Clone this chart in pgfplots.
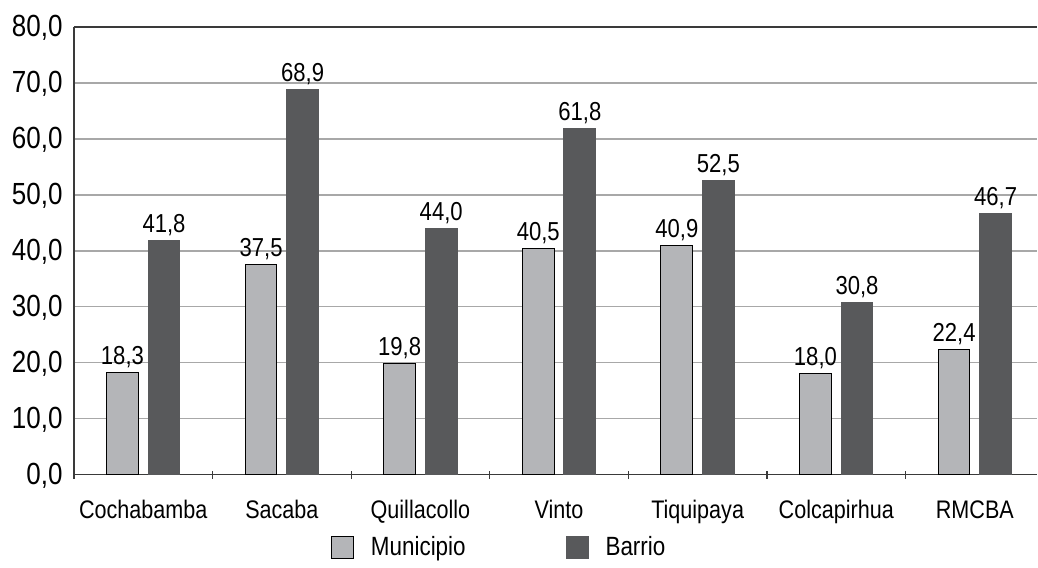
\documentclass[border=0pt]{standalone}
\usepackage{fontspec}
\setmainfont{Liberation Sans}[FakeStretch=0.85]
\usepackage{pgfplots}
\pgfplotsset{compat=1.18}
\usetikzlibrary{calc}
\definecolor{muni}{HTML}{B4B5B8}
\definecolor{barrio}{HTML}{58595B}
\definecolor{gridc}{HTML}{A8A8A8}
\definecolor{axisc}{HTML}{3A3A3A}
\begin{document}
\begin{tikzpicture}
\begin{axis}[
  scale only axis, width=482pt, height=224pt,
  xmin=-0.5, xmax=6.45, ymin=0, ymax=80,
  axis x line*=bottom, axis y line*=left,
  axis line style={-, draw=axisc, line width=0.8pt},
  ytick={0,10,...,80}, ytick style={draw=none},
  ymajorgrids, grid style={gridc, line width=0.7pt},
  xtick={0,...,6}, xtick style={draw=none},
  xticklabels={Cochabamba,Sacaba,Quillacollo,Vinto,Tiquipaya,Colcapirhua,RMCBA},
  extra x ticks={-0.5,0.5,1.5,2.5,3.5,4.5,5.5}, extra x tick labels={},
  extra x tick style={grid=none, tick align=center, major tick length=4pt,
    xtick style={draw=axisc, line width=0.6pt}},
  xticklabel style={anchor=base, yshift=-17.5pt, font=\fontsize{12.7}{14}\selectfont},
  yticklabel style={anchor=base east, inner sep=0pt, xshift=-5.5pt, yshift=-5pt,
    font=\fontsize{15.3}{17}\selectfont},
  /pgf/number format/.cd, use comma, fixed, fixed zerofill, precision=1, assume math mode=true,
  /pgfplots/.cd,
  ybar, bar width=0.23, bar shift=0pt,
  nodes near coords,
  every node near coord/.append style={anchor=base, inner sep=0pt, yshift=4pt,
    text=black, font=\fontsize{13}{15}\selectfont},
  legend style={at={(0.4425,-0.163)}, anchor=center, draw=none, fill=none,
    legend columns=2, font=\fontsize{13.2}{15}\selectfont,
    /tikz/every odd column/.append style={column sep=6.5pt},
    /tikz/every even column/.append style={column sep=48pt}},
  legend image code/.code={\draw[#1] (0pt,-5.5pt) rectangle (11pt,5.5pt);},
]
\addplot[fill=muni, draw=black, line width=0.5pt] coordinates
  {(-0.15,18.3) (0.85,37.5) (1.85,19.8) (2.85,40.5) (3.85,40.9) (4.85,18.0) (5.85,22.4)};
\addlegendentry{Municipio}
\addplot[fill=barrio, draw=barrio, line width=0.5pt] coordinates
  {(0.15,41.8) (1.15,68.9) (2.15,44.0) (3.15,61.8) (4.15,52.5) (5.15,30.8) (6.15,46.7)};
\addlegendentry{Barrio}
\draw[axisc, line width=0.8pt] (rel axis cs:0,1) -- (rel axis cs:1,1);
\end{axis}
\useasboundingbox ($(current axis.south west)+(-37pt,-46.5pt)$) rectangle ($(current axis.north east)+(0,13.5pt)$);
\end{tikzpicture}
\end{document}
